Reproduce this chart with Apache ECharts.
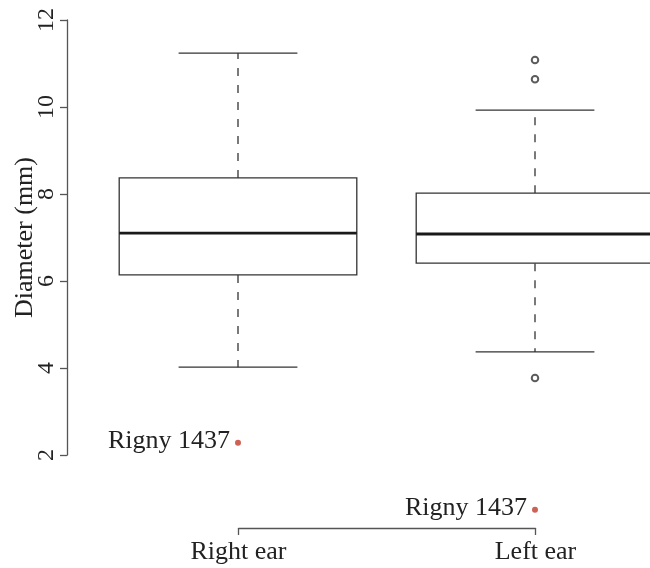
<!DOCTYPE html>
<html>
<head>
<meta charset="utf-8">
<script src="https://cdn.jsdelivr.net/npm/echarts@6/dist/echarts.min.js"></script>
<style>
html,body{margin:0;padding:0;background:#fff;}
#chart{width:650px;height:568px;}
</style>
</head>
<body>
<div id="chart"></div>
<script>
// Data
const categories = ['Right ear', 'Left ear'];
// [low whisker, Q1, median, Q3, high whisker]
const boxStats = [
  [4.02, 6.14, 7.10, 8.37, 11.24],
  [4.37, 6.41, 7.08, 8.02, 9.93]
];
const outliers = [[1, 11.08], [1, 10.64], [1, 3.77]];
const highlighted = [[0, 2.28], [1, 0.74]];
const highlightedLabel = 'Rigny 1437';
const yTicks = { min: 2, max: 12, interval: 2 };

const FONT = 'Liberation Serif';
const LINE = '#333';

const chart = echarts.init(document.getElementById('chart'));

const boxData = boxStats.map((s, i) => [i].concat(s));

function renderBox(params, api) {
  const x = api.value(0);
  const lo = api.coord([x, api.value(1)]);
  const q1 = api.coord([x, api.value(2)]);
  const md = api.coord([x, api.value(3)]);
  const q3 = api.coord([x, api.value(4)]);
  const hi = api.coord([x, api.value(5)]);
  const band = api.size([1, 0])[0];
  const bw = band * 0.8;
  const cw = bw / 2;
  const cx = md[0];
  const dash = { stroke: LINE, lineWidth: 1.3, lineDash: [8, 9] };
  const solid = { stroke: LINE, lineWidth: 1.3 };
  return {
    type: 'group',
    children: [
      { type: 'line', shape: { x1: cx, y1: q3[1], x2: cx, y2: hi[1] }, style: dash },
      { type: 'line', shape: { x1: cx, y1: q1[1], x2: cx, y2: lo[1] }, style: dash },
      { type: 'line', shape: { x1: cx - cw / 2, y1: hi[1], x2: cx + cw / 2, y2: hi[1] }, style: solid },
      { type: 'line', shape: { x1: cx - cw / 2, y1: lo[1], x2: cx + cw / 2, y2: lo[1] }, style: solid },
      { type: 'rect', shape: { x: cx - bw / 2, y: q3[1], width: bw, height: q1[1] - q3[1] },
        style: { fill: '#fff', stroke: LINE, lineWidth: 1.3 } },
      { type: 'line', shape: { x1: cx - bw / 2, y1: md[1], x2: cx + bw / 2, y2: md[1] },
        style: { stroke: '#1a1a1a', lineWidth: 2.8 } }
    ]
  };
}

const option = {
  backgroundColor: '#fff',
  animation: false,
  grid: [
    { left: 89.5, top: 20, width: 594, height: 435, outerBoundsMode: 'none', containLabel: false },
    { left: 238.5, top: 527, width: 297, height: 1, outerBoundsMode: 'none', containLabel: false }
  ],
  xAxis: [
    { type: 'category', gridIndex: 0, data: categories, boundaryGap: true, show: false },
    { type: 'category', gridIndex: 1, data: categories, boundaryGap: false, position: 'bottom',
      axisLine: { show: true, lineStyle: { color: '#555', width: 1.3 } },
      axisTick: { show: true, length: 7, lineStyle: { color: '#555', width: 1.3 } },
      axisLabel: { fontFamily: FONT, fontSize: 26, color: '#222', margin: 11 },
      splitLine: { show: false } }
  ],
  yAxis: [
    { type: 'value', gridIndex: 0, min: yTicks.min, max: yTicks.max, interval: yTicks.interval,
      offset: 22.5,
      name: 'Diameter (mm)', nameLocation: 'middle', nameRotate: 90, nameGap: 29,
      nameMoveOverlap: false,
      nameTextStyle: { fontFamily: FONT, fontSize: 26, color: '#222' },
      axisLine: { show: true, lineStyle: { color: '#555', width: 1.3 } },
      axisTick: { show: true, length: 7, lineStyle: { color: '#555', width: 1.3 } },
      axisLabel: { rotate: 90, fontFamily: FONT, fontSize: 24, color: '#222', margin: 8 },
      splitLine: { show: false } },
    { type: 'value', gridIndex: 1, show: false }
  ],
  series: [
    { type: 'custom', xAxisIndex: 0, yAxisIndex: 0, renderItem: renderBox,
      encode: { x: 0, y: [1, 2, 3, 4, 5] }, data: boxData, clip: false },
    { type: 'scatter', xAxisIndex: 0, yAxisIndex: 0, data: outliers, symbol: 'emptyCircle',
      symbolSize: 6.5, itemStyle: { color: '#333', borderColor: '#333', borderWidth: 1.3 }, z: 5 },
    { type: 'scatter', xAxisIndex: 0, yAxisIndex: 0, data: highlighted, clip: false,
      symbolSize: 6, itemStyle: { color: '#c0392b' }, z: 5,
      label: { show: true, position: 'left', distance: 5, formatter: highlightedLabel,
        fontFamily: FONT, fontSize: 26, color: '#222', opacity: 1, textBorderWidth: 0,
        offset: [0, -2] } }
  ]
};
chart.setOption(option);
</script>
</body>
</html>
